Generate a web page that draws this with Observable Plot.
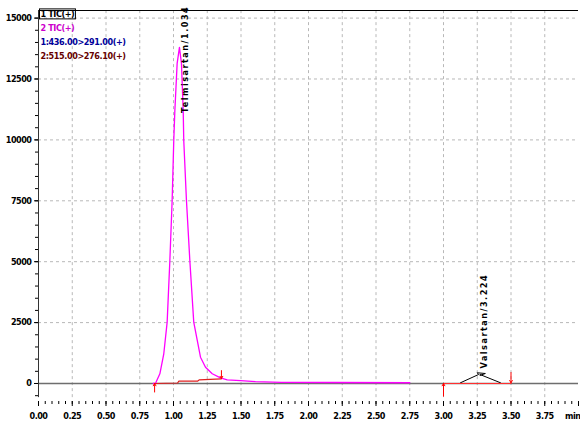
<!DOCTYPE html>
<html>
<head>
<meta charset="utf-8">
<script src="https://cdn.jsdelivr.net/npm/d3@7"></script>
<script src="https://cdn.jsdelivr.net/npm/@observablehq/plot@0.6"></script>
<style>
  html, body { margin: 0; padding: 0; background: #fff; }
  svg { display: block; }
</style>
</head>
<body>
<div id="chart"></div>
<script>
// --- Data ---
// Telmisartan trace (2 TIC, magenta): time (min), intensity
const telmiTime = [0.85, 0.867, 0.899, 0.928, 0.953, 0.973, 0.990, 1.002, 1.010, 1.027, 1.044,
                   1.059, 1.072, 1.076, 1.096, 1.121, 1.150, 1.176, 1.200, 1.237, 1.287, 1.348,
                   1.398, 1.496, 1.607, 1.80, 2.20, 2.75];
const telmiIntensity = [0, 10, 400, 1220, 2520, 5050, 7510, 9975, 11200, 13140, 13800,
                        13140, 11200, 9975, 7510, 5050, 2520, 1770, 1080, 670, 400, 230,
                        150, 120, 80, 50, 40, 30];
// Valsartan trace (1 TIC, black)
const valsTime = [3.126, 3.26, 3.25, 3.31, 3.27, 3.27, 3.422];
const valsIntensity = [30, 370, 440, 410, 330, 370, 30];
// Integration baselines (red)
const telmiBaseTime = [0.86, 1.03, 1.04, 1.18, 1.19, 1.355];
const telmiBaseIntensity = [0, 20, 100, 100, 150, 190];
const valsBaseTime = [3.0, 3.5];
const valsBaseIntensity = [0, 0];
// Integration markers (arrows): time, from, to
const markerTime = [0.86, 1.355, 3.0, 3.5];
const markerFrom = [-350, 530, -520, 450];
const markerTo = [0, 200, 0, 30];
// Peak labels
const peakLabels = ["Telmisartan/1.034", "Valsartan/3.224"];
const peakTime = [1.089, 3.30];
const peakIntensity = [11100, 620];
// Legend
const legendLabels = ["1 TIC(+)", "2 TIC(+)", "1:436.00>291.00(+)", "2:515.00>276.10(+)"];
const legendColors = ["#000000", "#cc00cc", "#000099", "#660000"];
// Axes
const xTicks = [0, 0.25, 0.5, 0.75, 1, 1.25, 1.5, 1.75, 2, 2.25, 2.5, 2.75, 3, 3.25, 3.5, 3.75, 4];
const xTickLabels = ["0.00", "0.25", "0.50", "0.75", "1.00", "1.25", "1.50", "1.75", "2.00",
                     "2.25", "2.50", "2.75", "3.00", "3.25", "3.50", "3.75", "min"];
const yTicks = [0, 2500, 5000, 7500, 10000, 12500, 15000];
const yTickLabels = ["0", "2500", "5000", "7500", "10000", "12500", "15000"];

const yMin = -739, yMax = 15312;
const xMinor = d3.range(0, 4.0001, 0.05).map(d => +d.toFixed(2));
const yMinor = d3.range(-500, 15001, 500);

const telmi = telmiTime.map((t, i) => ({t, v: telmiIntensity[i]}));
const vals = valsTime.map((t, i) => ({t, v: valsIntensity[i]}));
const telmiBase = telmiBaseTime.map((t, i) => ({t, v: telmiBaseIntensity[i]}));
const valsBase = valsBaseTime.map((t, i) => ({t, v: valsBaseIntensity[i]}));
const markers = markerTime.map((t, i) => ({t, from: markerFrom[i], to: markerTo[i]}));
const peaks = peakLabels.map((label, i) => ({label, t: peakTime[i], v: peakIntensity[i]}));

const font = "'DejaVu Sans Condensed', 'Liberation Sans Narrow', 'DejaVu Sans', sans-serif";

const chart = Plot.plot({
  width: 580,
  height: 421,
  marginLeft: 38,
  marginRight: 2,
  marginTop: 10,
  marginBottom: 20,
  style: {fontFamily: font, fontSize: "9px", background: "#fff", overflow: "visible"},
  x: {domain: [0, 4]},
  y: {domain: [yMin, yMax]},
  marks: [
    // grid
    Plot.ruleX(xTicks.slice(1, -1), {y1: -580, y2: yMax, stroke: "#b8b8b8", strokeDasharray: "3,3"}),
    Plot.ruleY(yTicks.slice(1), {stroke: "#b8b8b8", strokeDasharray: "3,3"}),
    // baseline
    Plot.ruleY([0], {stroke: "#6e6e6e", strokeWidth: 1.5}),
    // frame: top border and left axis line
    Plot.ruleY([yMax], {stroke: "#000", strokeWidth: 1}),
    Plot.ruleX([0], {y1: -580, y2: yMax, stroke: "#333", strokeWidth: 1}),
    // axes
    Plot.axisY(yTicks, {tickSize: 4, tickPadding: 3, fontWeight: "bold", fontSize: 9, label: null,
      tickFormat: d => yTickLabels[yTicks.indexOf(d)]}),
    Plot.axisY(yMinor, {tickSize: 3, tickFormat: () => "", label: null}),
    Plot.axisX(xTicks, {tickSize: 5, tickPadding: 6, fontWeight: "bold", fontSize: 9, label: null,
      tickFormat: d => xTickLabels[xTicks.indexOf(d)]}),
    Plot.axisX(xMinor, {tickSize: 3, tickPadding: 6, tickFormat: () => "", label: null}),
    // traces
    Plot.line(telmi, {x: "t", y: "v", stroke: "#ff00ff", strokeWidth: 1.3}),
    Plot.line(vals, {x: "t", y: "v", stroke: "#000", strokeWidth: 1}),
    Plot.line(telmiBase, {x: "t", y: "v", stroke: "#e02020", strokeWidth: 1.2}),
    Plot.line(valsBase, {x: "t", y: "v", stroke: "#ff3030", strokeWidth: 1.2}),
    Plot.arrow(markers, {x: "t", y1: "from", y2: "to", stroke: "#ff0000", strokeWidth: 1, headLength: 4, bend: false}),
    // peak labels
    Plot.text(peaks, {x: "t", y: "v", text: "label", rotate: -90, textAnchor: "start",
      fontSize: 9, fontWeight: "bold", fill: "#000"}),
    // legend
    ...legendLabels.map((l, i) => Plot.text([l], {
      frameAnchor: "top-left", dx: 2, dy: i * 14, lineAnchor: "top", textAnchor: "start",
      fill: legendColors[i], fontWeight: "bold", fontSize: 9
    }))
  ]
});

document.getElementById("chart").appendChild(chart);

const allText = Array.from(chart.querySelectorAll("text"));
// letter spacing tweaks
allText.forEach(t => {
  const s = t.textContent;
  if (peakLabels.includes(s)) t.style.letterSpacing = "1.5px";
  else if (legendLabels.includes(s)) t.style.letterSpacing = "-0.4px";
  else if (xTickLabels.includes(s) || yTickLabels.includes(s)) t.style.letterSpacing = "-0.5px";
  if (s === "min") { t.setAttribute("text-anchor", "end"); t.setAttribute("dx", "2"); }
});
// selection box round the first legend entry
const first = allText.find(t => t.textContent === legendLabels[0]);
if (first) {
  const b = first.getBBox();
  const r = document.createElementNS("http://www.w3.org/2000/svg", "rect");
  r.setAttribute("x", b.x - 1);
  r.setAttribute("y", b.y);
  r.setAttribute("width", b.width + 2);
  r.setAttribute("height", b.height);
  r.setAttribute("fill", "none");
  r.setAttribute("stroke", "#000");
  r.setAttribute("stroke-width", "1");
  const tr = first.getAttribute("transform");
  if (tr) r.setAttribute("transform", tr);
  first.parentNode.appendChild(r);
}
</script>
</body>
</html>
